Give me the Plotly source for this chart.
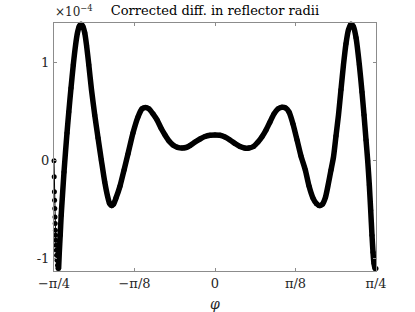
import numpy as np
import plotly.graph_objects as go

# phi in units of pi/8, r_corr in units of 1e-4
phi_u = [-2.0, -1.9975, -1.9950, -1.9925, -1.9901, -1.9876, -1.9851, -1.9826, -1.9801, -1.9776,
         -1.9752, -1.9714, -1.9677, -1.9627, -1.9565, -1.9503,
         -1.9429, -1.9342, -1.9230, -1.9106, -1.8944, -1.8758, -1.8571, -1.8385, -1.8161, -1.7888,
         -1.7602, -1.7329, -1.7081, -1.6857, -1.6646, -1.640, -1.6186, -1.595, -1.5677, -1.534,
         -1.494, -1.453, -1.412, -1.370, -1.335, -1.311, -1.286, -1.261, -1.230, -1.180,
         -1.130, -1.081, -1.019, -0.957, -0.907, -0.863, -0.820, -0.770, -0.720, -0.671,
         -0.621, -0.571, -0.522, -0.466, -0.410, -0.360, -0.311, -0.248, -0.186, -0.124,
         -0.062, 0.0, 0.062, 0.124, 0.186, 0.248, 0.311, 0.366, 0.422, 0.478,
         0.534, 0.584, 0.634, 0.683, 0.733, 0.783, 0.832, 0.876, 0.919, 0.969,
         1.019, 1.068, 1.122, 1.168, 1.217, 1.261, 1.298, 1.335, 1.373, 1.410,
         1.441, 1.472, 1.503, 1.534, 1.565, 1.596, 1.627, 1.658, 1.689, 1.720,
         1.752, 1.793, 1.826, 1.851, 1.876, 1.897, 1.917, 1.934, 1.950, 1.963,
         1.975, 1.988, 2.0]
r_corr = [0.0, -0.164, -0.317, -0.402, -0.487, -0.573, -0.640, -0.709, -0.760, -0.811,
          -0.862, -0.913, -0.964, -1.015, -1.066, -1.097,
          -1.100, -0.934, -0.760, -0.555, -0.350, -0.116, 0.089, 0.283, 0.498, 0.743,
          0.979, 1.173, 1.306, 1.372, 1.395, 1.367, 1.306, 1.173, 0.979, 0.723,
          0.467, 0.232, 0.007, -0.215, -0.361, -0.433, -0.458, -0.443, -0.381, -0.259,
          -0.095, 0.069, 0.283, 0.447, 0.529, 0.544, 0.529, 0.478, 0.416, 0.334,
          0.263, 0.201, 0.161, 0.137, 0.130, 0.135, 0.155, 0.191, 0.222, 0.247,
          0.260, 0.263, 0.260, 0.242, 0.212, 0.176, 0.145, 0.130, 0.130, 0.145,
          0.191, 0.245, 0.314, 0.396, 0.478, 0.529, 0.546, 0.539, 0.498, 0.375,
          0.212, 0.048, -0.095, -0.259, -0.381, -0.438, -0.458, -0.443, -0.371, -0.228,
          -0.095, 0.038, 0.252, 0.467, 0.723, 0.979, 1.193, 1.336, 1.395, 1.367,
          1.255, 0.979, 0.702, 0.467, 0.212, 0.0, -0.248, -0.504, -0.760, -0.934,
          -1.046, -1.097, -1.100]
n_edge = 16  # points of the thin dotted edge segment at -pi/4

x_tick_u = [-2, -1, 0, 1, 2]
x_tick_text = ["\u2212\u03c0/4", "\u2212\u03c0/8", "0", "\u03c0/8", "\u03c0/4"]
y_ticks = [-1, 0, 1]
y_tick_text = ["-1", "0", "1"]

phi = np.array(phi_u) * np.pi / 8
r = np.array(r_corr)

fig = go.Figure()
fig.add_trace(go.Scatter(x=phi[n_edge:], y=r[n_edge:], mode="lines",
                         line=dict(color="black", width=5.5, shape="spline", smoothing=0.6),
                         hoverinfo="skip"))
fig.add_trace(go.Scatter(x=phi, y=r, mode="lines+markers", cliponaxis=False,
                         line=dict(color="black", width=1),
                         marker=dict(color="black", size=5)))

serif = "DejaVu Serif"
axcol = "#8c8c8c"
fig.update_layout(
    width=415, height=312,
    margin=dict(l=54, r=39, t=23, b=41, autoexpand=False),
    paper_bgcolor="white", plot_bgcolor="white",
    showlegend=False,
    font=dict(family=serif, size=13, color="#262626"),
    title=dict(text="Corrected diff. in reflector radii", x=0.518, xanchor="center",
               y=1 - 10.5 / 312, yanchor="middle", yref="container",
               font=dict(family=serif, size=13, color="black")),
)
fig.update_xaxes(range=[-np.pi / 4, np.pi / 4], tickvals=np.array(x_tick_u) * np.pi / 8,
                 ticktext=x_tick_text, ticks="inside", ticklen=3, tickcolor=axcol,
                 showline=True, linecolor=axcol, linewidth=1, mirror="ticks",
                 showgrid=False, zeroline=False, ticklabelstandoff=0, automargin=False,
                 title=dict(text="<i>\u03c6</i>", standoff=9, font=dict(size=14)))
fig.update_yaxes(range=[-1.125, 1.405], tickvals=y_ticks, ticktext=y_tick_text,
                 ticks="inside", ticklen=3, tickcolor=axcol,
                 showline=True, linecolor=axcol, linewidth=1, mirror="ticks",
                 showgrid=False, zeroline=False, ticklabelstandoff=1, automargin=False)
fig.add_annotation(text="\u00d710<sup>\u22124</sup>", xref="paper", yref="paper",
                   x=0, y=1, xanchor="left", yanchor="bottom", showarrow=False,
                   yshift=2, xshift=-1, font=dict(family=serif, size=12, color="#262626"))
fig.write_html("out.html", post_script="document.body.style.margin='0px';",
               config={"displayModeBar": False})
